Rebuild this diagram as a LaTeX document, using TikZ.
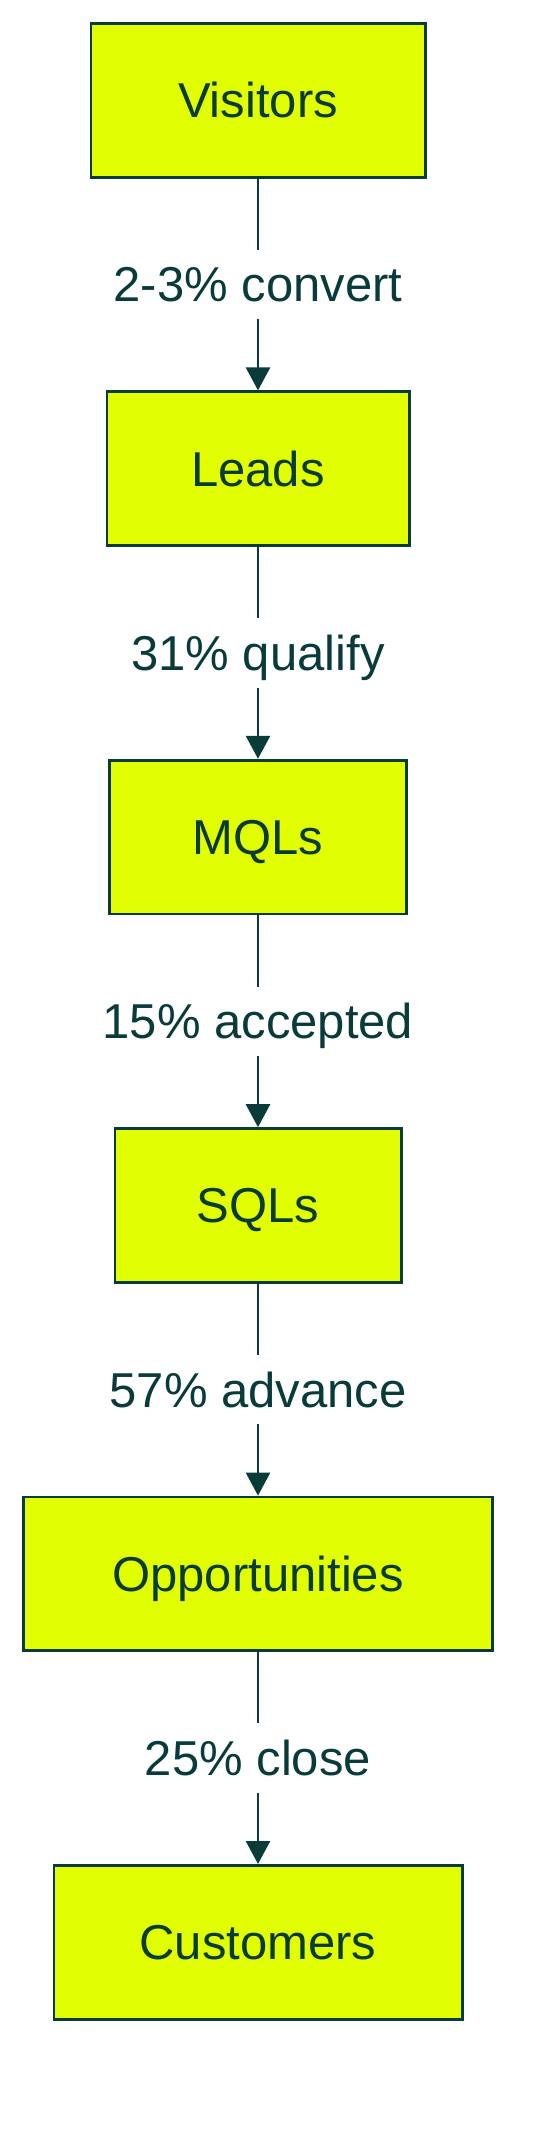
\documentclass[tikz,border=0pt]{standalone}
\usepackage{fontspec}
\setmainfont{Liberation Sans}
\usetikzlibrary{arrows.meta}
\definecolor{lime}{RGB}{226,254,3}
\definecolor{ink}{RGB}{10,59,59}
\begin{document}
\begin{tikzpicture}[x=1pt,y=1pt,
  stage/.style={draw=ink, line width=2.8pt, fill=lime, text=ink,
    font=\fontsize{49pt}{59pt}\selectfont, minimum height=153.7pt,
    inner sep=0pt, text height=35pt, text depth=0pt},
  rate/.style={text=ink, font=\fontsize{49pt}{59pt}\selectfont,
    minimum height=69pt, inner sep=0pt, text height=35pt, text depth=0pt},
  flow/.style={draw=ink, line width=2.6pt},
  flowarrow/.style={flow, -{Triangle[length=23pt,width=24pt]}}]
\useasboundingbox (0,0) rectangle (540,-2130);
\fill[white] (0,0) rectangle (540,-2130);
\node[stage, minimum width=334.2pt] (vis) at (258,-100.25) {Visitors};
\node[stage, minimum width=302.2pt] (lea) at (258,-468.65) {Leads};
\node[stage, minimum width=297.2pt] (mql) at (258,-837.05) {MQLs};
\node[stage, minimum width=286.2pt] (sql) at (258,-1205.45) {SQLs};
\node[stage, minimum width=469.2pt] (opp) at (258,-1573.85) {Opportunities};
\node[stage, minimum width=408.2pt] (cus) at (258,-1942.25) {Customers};
\node[rate] (r1) at (258,-284.45) {2-3\% convert};
\node[rate] (r2) at (258,-652.85) {31\% qualify};
\node[rate] (r3) at (258,-1021.25) {15\% accepted};
\node[rate] (r4) at (258,-1389.65) {57\% advance};
\node[rate] (r5) at (258,-1758.05) {25\% close};
\draw[flow] (vis) -- (r1);
\draw[flowarrow] (r1) -- (lea);
\draw[flow] (lea) -- (r2);
\draw[flowarrow] (r2) -- (mql);
\draw[flow] (mql) -- (r3);
\draw[flowarrow] (r3) -- (sql);
\draw[flow] (sql) -- (r4);
\draw[flowarrow] (r4) -- (opp);
\draw[flow] (opp) -- (r5);
\draw[flowarrow] (r5) -- (cus);
\end{tikzpicture}
\end{document}
